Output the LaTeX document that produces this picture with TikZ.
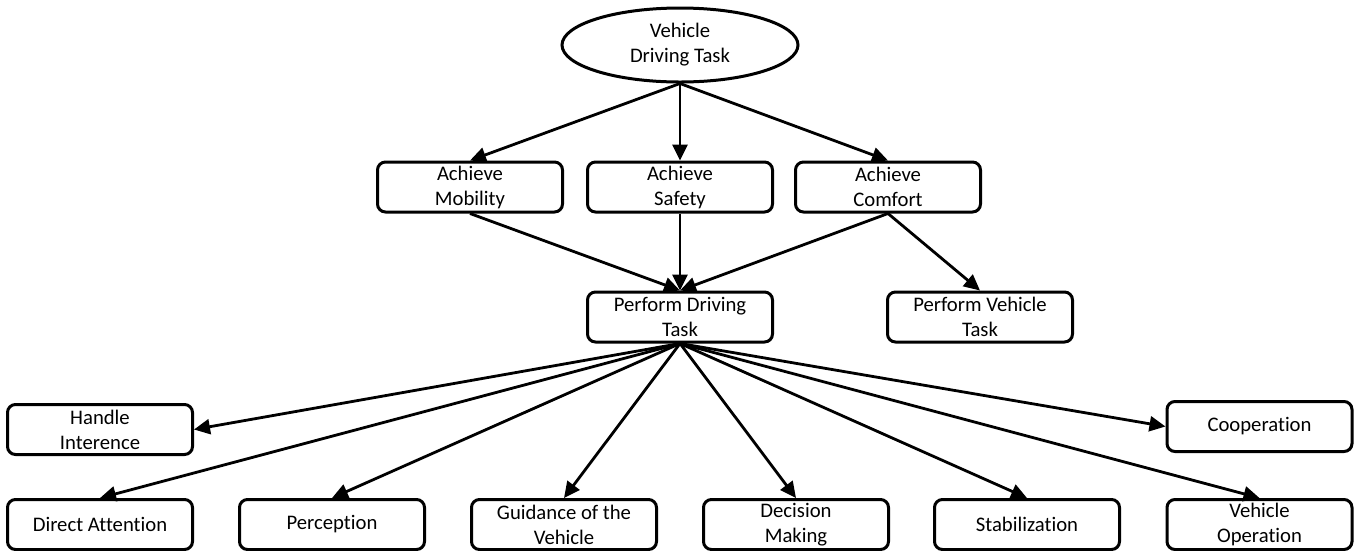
\documentclass[tikz,border=0pt]{standalone}
\usepackage{fontspec}
\setmainfont{Carlito}[Ligatures={NoCommon}]
\usetikzlibrary{arrows.meta,shapes.geometric}
\begin{document}
\begin{tikzpicture}[x=1pt,y=-1pt,
  box/.style={draw,line width=3pt,rounded corners=8pt,minimum width=185pt,minimum height=50pt,inner sep=0pt,align=center,font=\fontsize{20.7}{25}\selectfont},
  oval/.style={draw,ellipse,line width=3pt,minimum width=236pt,minimum height=74pt,inner sep=0pt,align=center,font=\fontsize{20.7}{25}\selectfont},
  arr/.style={line width=2.8pt,-{Triangle[length=16pt,width=15pt]}}]
\path[use as bounding box] (0,0) rectangle (1359,550);
\node[oval] (top) at (680,45) {Vehicle\\Driving Task};
\node[box] (mob) at (470,187) {Achieve\\Mobility};
\node[box] (saf) at (680,187) {Achieve\\Safety};
\node[box] (com) at (888,187) {Achieve\\Comfort};
\node[box] (pdt) at (680,317) {Perform Driving\\Task};
\node[box] (pvt) at (980,317) {Perform Vehicle\\Task};
\node[box] (han) at (100,429.5) {Handle\\Interence};
\node[box] (coo) at (1259.5,426.5) {Cooperation};
\node[box] (dir) at (100,524.5) {Direct Attention};
\node[box] (per) at (332,524.5) {Perception};
\node[box] (gui) at (564,524.5) {Guidance of the\\Vehicle};
\node[box] (dec) at (796,524.5) {Decision\\Making};
\node[box] (sta) at (1027,524.5) {Stabilization};
\node[box] (vop) at (1259.5,524.5) {Vehicle\\Operation};
\draw[arr] (top.south) -- (mob.north);
\draw[arr] (top.south) -- (saf.north);
\draw[arr] (top.south) -- (com.north);
\draw[arr] (mob.south) -- (pdt.north);
\draw[arr] (saf.south) -- (pdt.north);
\draw[arr] (com.south) -- (pdt.north);
\draw[arr] (com.south) -- (pvt.north);
\draw[arr] (pdt.south) -- (han.east);
\draw[arr] (pdt.south) -- (coo.west);
\draw[arr] (pdt.south) -- (dir.north);
\draw[arr] (pdt.south) -- (per.north);
\draw[arr] (pdt.south) -- (gui.north);
\draw[arr] (pdt.south) -- (dec.north);
\draw[arr] (pdt.south) -- (sta.north);
\draw[arr] (pdt.south) -- (vop.north);
\end{tikzpicture}
\end{document}
